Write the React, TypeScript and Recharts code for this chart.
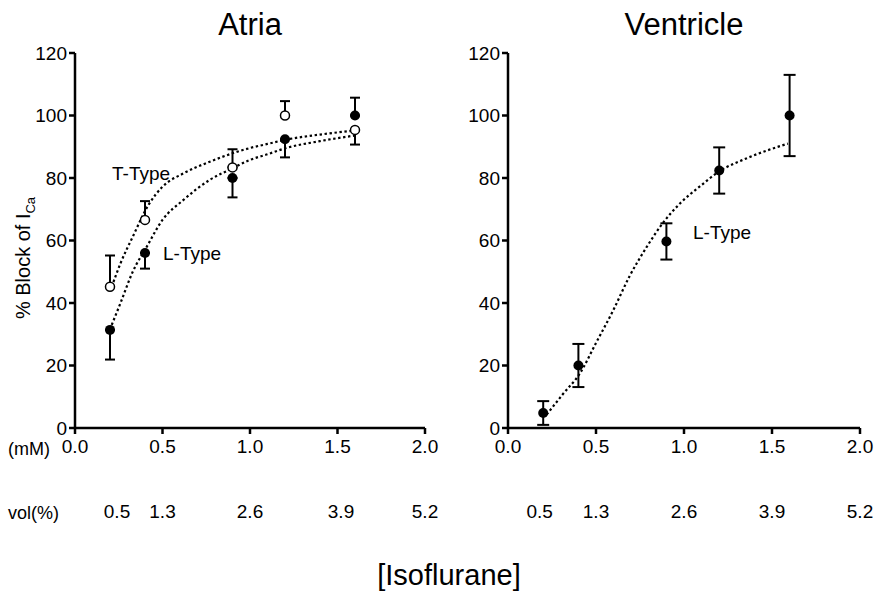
import React from "react";
import {
  ComposedChart,
  Line,
  Scatter,
  ErrorBar,
  XAxis,
  YAxis,
} from "recharts";

const FONT = '"Liberation Sans", Arial, sans-serif';

const mmTicks = [0, 0.5, 1, 1.5, 2];
const yTicks = [0, 20, 40, 60, 80, 100, 120];
const volLabels = ["0.5", "1.3", "2.6", "3.9", "5.2"];
const volTicksAtria = [0.24, 0.5, 1.0, 1.52, 2.0];
const volTicksVentricle = [0.18, 0.5, 1.0, 1.5, 2.0];

// err = [below, above]
const atriaL = [
  { x: 0.2, y: 31.4, err: [9.5, 0] },
  { x: 0.4, y: 56, err: [5, 0] },
  { x: 0.9, y: 80, err: [6.2, 0] },
  { x: 1.2, y: 92.4, err: [5.8, 0] },
  { x: 1.6, y: 100, err: [0, 5.7] },
];
const atriaT = [
  { x: 0.2, y: 45.2, err: [0, 10] },
  { x: 0.4, y: 66.6, err: [0, 6] },
  { x: 0.9, y: 83.4, err: [0, 5.8] },
  { x: 1.2, y: 100, err: [0, 4.6] },
  { x: 1.6, y: 95.4, err: [4.7, 0] },
];
const ventricleL = [
  { x: 0.2, y: 4.8, err: 3.8 },
  { x: 0.4, y: 20, err: 6.9 },
  { x: 0.9, y: 59.7, err: 5.8 },
  { x: 1.2, y: 82.4, err: 7.4 },
  { x: 1.6, y: 100, err: 13 },
];

// fitted curves
const atriaTFit = [
  { x: 0.21, y: 45.2 }, { x: 0.26, y: 52.7 }, { x: 0.33, y: 61.2 },
  { x: 0.42, y: 71.4 }, { x: 0.5, y: 77.2 }, { x: 0.62, y: 81.5 },
  { x: 0.77, y: 85.2 }, { x: 0.9, y: 87.9 }, { x: 1.0, y: 89.6 },
  { x: 1.1, y: 90.9 }, { x: 1.2, y: 92.2 }, { x: 1.4, y: 93.9 },
  { x: 1.6, y: 95.2 },
];
const atriaLFit = [
  { x: 0.21, y: 33 }, { x: 0.26, y: 40 }, { x: 0.33, y: 50 },
  { x: 0.41, y: 58 }, { x: 0.5, y: 66.6 }, { x: 0.62, y: 73 },
  { x: 0.77, y: 79.4 }, { x: 0.9, y: 83.1 }, { x: 1.0, y: 85.8 },
  { x: 1.1, y: 87.6 }, { x: 1.2, y: 89.5 }, { x: 1.4, y: 91.8 },
  { x: 1.6, y: 93.6 },
];
const ventricleFit = [
  { x: 0.22, y: 4.3 }, { x: 0.31, y: 10.7 }, { x: 0.41, y: 17.6 },
  { x: 0.5, y: 27.2 }, { x: 0.6, y: 37.9 }, { x: 0.69, y: 48.5 },
  { x: 0.79, y: 58.1 }, { x: 0.88, y: 65.6 }, { x: 0.98, y: 72 },
  { x: 1.09, y: 77.3 }, { x: 1.2, y: 82.1 }, { x: 1.36, y: 86.4 },
  { x: 1.59, y: 91 },
];

const tickStyle = { fill: "#000", fontSize: 19, fontFamily: FONT };
const axisLine = { stroke: "#000", strokeWidth: 2.5 };

const filledDot = (p: any) => <circle cx={p.cx} cy={p.cy} r={5} fill="#000" />;
const openDot = (p: any) => (
  <circle cx={p.cx} cy={p.cy} r={4.5} fill="#fff" stroke="#000" strokeWidth={1.5} />
);
const noDot = () => <g />;

function Panel({ yWidth, right, volTicks, children }: any) {
  const volAnchor = volTicks.map((x: number) => ({ x, y: 0 }));
  return (
    <ComposedChart
      width={460}
      height={591}
      margin={{ top: 53, right, bottom: 63, left: 0 }}
      style={{ overflow: "visible" }}
    >
      <XAxis
        xAxisId="mm"
        dataKey="x"
        type="number"
        domain={[0, 2]}
        ticks={mmTicks}
        tickFormatter={(v: number) => v.toFixed(1)}
        tick={tickStyle}
        axisLine={axisLine}
        tickLine={axisLine}
        tickSize={6}
        tickMargin={6}
        height={70}
        interval={0}
      />
      <XAxis
        xAxisId="vol"
        dataKey="x"
        type="number"
        domain={[0, 2]}
        allowDataOverflow
        ticks={volTicks}
        tickFormatter={(v: number) => volLabels[volTicks.indexOf(v)] ?? ""}
        tick={tickStyle}
        axisLine={false}
        tickLine={false}
        tickSize={0}
        tickMargin={7}
        height={30}
        interval={0}
      />
      <YAxis
        type="number"
        domain={[0, 120]}
        ticks={yTicks}
        tick={tickStyle}
        axisLine={axisLine}
        tickLine={axisLine}
        tickSize={6}
        tickMargin={2}
        width={yWidth}
        interval={0}
      />
      {/* invisible series so the vol(%) axis has data */}
      <Scatter xAxisId="vol" data={volAnchor} dataKey="y" shape={noDot} isAnimationActive={false} />
      {children}
    </ComposedChart>
  );
}

const curve = (data: any[], key: string) => (
  <Line
    key={key}
    xAxisId="mm"
    data={data}
    dataKey="y"
    type="monotone"
    stroke="#000"
    strokeWidth={2.2}
    strokeDasharray="2.4 2.6"
    dot={false}
    activeDot={false}
    isAnimationActive={false}
  />
);

export default function App() {
  return (
    <div style={{ position: "relative", width: 874, height: 591, background: "#fff", overflow: "hidden" }}>
      <style>{"body{margin:0}"}</style>
      <div style={{ position: "absolute", left: 0, top: 0 }}>
        <Panel yWidth={75} right={35} volTicks={volTicksAtria}>
          {curve(atriaTFit, "tfit")}
          {curve(atriaLFit, "lfit")}
          <Scatter xAxisId="mm" data={atriaT} dataKey="y" shape={openDot} isAnimationActive={false}>
            <ErrorBar dataKey="err" direction="y" width={5} stroke="#000" strokeWidth={2} />
          </Scatter>
          <Scatter xAxisId="mm" data={atriaL} dataKey="y" shape={filledDot} isAnimationActive={false}>
            <ErrorBar dataKey="err" direction="y" width={5} stroke="#000" strokeWidth={2} />
          </Scatter>
        </Panel>
      </div>
      <div style={{ position: "absolute", left: 437, top: 0 }}>
        <Panel yWidth={71} right={37} volTicks={volTicksVentricle}>
          {curve(ventricleFit, "vfit")}
          <Scatter xAxisId="mm" data={ventricleL} dataKey="y" shape={filledDot} isAnimationActive={false}>
            <ErrorBar dataKey="err" direction="y" width={6} stroke="#000" strokeWidth={2} />
          </Scatter>
        </Panel>
      </div>
      <svg
        width={874}
        height={591}
        style={{ position: "absolute", left: 0, top: 0, pointerEvents: "none" }}
        fontFamily={FONT}
      >
        <text x={250} y={35} fontSize={31} textAnchor="middle">Atria</text>
        <text x={684} y={35} fontSize={31} textAnchor="middle">Ventricle</text>
        <text transform="rotate(-90 30 258)" x={30} y={258} fontSize={20} textAnchor="middle">
          % Block of I<tspan fontSize={13} dy={5}>Ca</tspan>
        </text>
        <text x={8} y={455} fontSize={18}>(mM)</text>
        <text x={8} y={519} fontSize={18}>vol(%)</text>
        <text x={112} y={180} fontSize={19}>T-Type</text>
        <text x={163} y={260} fontSize={19}>L-Type</text>
        <text x={693} y={239} fontSize={19}>L-Type</text>
        <text x={449} y={585} fontSize={29} textAnchor="middle">[Isoflurane]</text>
      </svg>
    </div>
  );
}
